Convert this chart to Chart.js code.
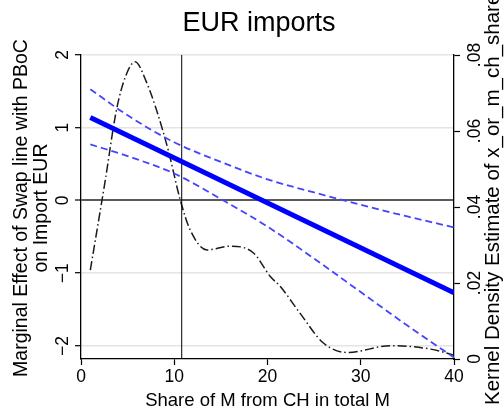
<!DOCTYPE html>
<html>
<head>
<meta charset="utf-8">
<script src="https://cdn.jsdelivr.net/npm/chart.js@4.4.1/dist/chart.umd.min.js"></script>
<style>
  html, body { margin: 0; padding: 0; background: #fff; }
  #wrap { width: 504px; height: 407px; }
</style>
</head>
<body>
<div id="wrap"><canvas id="effectChart"></canvas></div>
<script>
// Marginal effect of the swap line over the CH import share
const effectX = [1, 40];
const effectY = [1.14, -1.27];

// 95% bounds, read at these shares
const ciX = [1, 5, 10, 15, 20, 25, 30, 35, 40];
const upperCI = [1.53, 1.17, 0.80, 0.53, 0.29, 0.11, -0.06, -0.22, -0.37];
const lowerCI = [0.77, 0.61, 0.37, 0.02, -0.36, -0.80, -1.26, -1.72, -2.16];

// Kernel density of the share (right axis)
const densityX = [1, 2.6, 3.8, 4.8, 5.8, 7, 8.1, 9.35, 10.65, 11.7, 13.5, 16, 18.5, 20.3, 21.4, 23.5, 26, 28.6, 33.2, 37.5, 40];
const densityY = [0.0234, 0.047, 0.0655, 0.0745, 0.0782, 0.073, 0.0655, 0.055, 0.0418, 0.034, 0.0287, 0.0297, 0.0279, 0.0217, 0.019, 0.012, 0.0042, 0.0017, 0.0035, 0.0026, 0.001];

// mean share, drawn as a vertical rule
const meanShare = 10.8;

const xTicks = [0, 10, 20, 30, 40];
const leftTicks = [-2, -1, 0, 1, 2];
const leftTickLabels = ['\u22122', '\u22121', '0', '1', '2'];
const rightTicks = [0, 0.02, 0.04, 0.06, 0.08];
const rightTickLabels = ['0', '.02', '.04', '.06', '.08'];

const leftMin = -2.18, leftMax = 2;
const FONT = '"Liberation Sans", Arial, Helvetica, sans-serif';

function pts(xs, ys) {
    return xs.map((x, i) => ({ x: x, y: ys[i] }));
}

// Rotated tick labels and axis titles (Stata style)
const textPlugin = {
    id: 'stataText',
    afterDraw(chart) {
        const ctx = chart.ctx;
        const yL = chart.scales.y;
        const yR = chart.scales.y2;
        const area = chart.chartArea;

        function vText(str, x, y, size, align) {
            ctx.save();
            ctx.translate(x, y);
            ctx.rotate(-Math.PI / 2);
            ctx.font = size + 'px ' + FONT;
            ctx.fillStyle = '#000';
            ctx.textAlign = align || 'center';
            ctx.textBaseline = 'alphabetic';
            ctx.fillText(str, 0, 0);
            ctx.restore();
        }

        leftTicks.forEach((v, i) => {
            vText(leftTickLabels[i], 68, yL.getPixelForValue(v), 17.5);
        });
        rightTicks.forEach((v, i) => {
            vText(rightTickLabels[i], 480, yR.getPixelForValue(v), 17.5);
        });

        // left axis title, two lines
        vText('Marginal Effect of Swap line with PBoC', 27, 208, 19.5);
        vText('on Import EUR', 47, 208, 19.5);

        // right axis title runs off the top edge
        vText('Kernel Density Estimate of x_or_m_ch_share', 499, 405, 20.5, 'left');

        // x title
        ctx.save();
        ctx.font = '18.5px ' + FONT;
        ctx.fillStyle = '#000';
        ctx.textAlign = 'center';
        ctx.textBaseline = 'alphabetic';
        ctx.fillText('Share of M from CH in total M', (area.left + area.right) / 2, 405.5);

        // chart title
        ctx.font = '27px ' + FONT;
        ctx.fillText('EUR imports', 259, 31);
        ctx.restore();
    }
};

const ctx = document.getElementById('effectChart').getContext('2d');
const chart = new Chart(ctx, {
    type: 'line',
    data: {
        datasets: [
            {
                label: 'Marginal effect',
                data: pts(effectX, effectY),
                borderColor: '#0000ff',
                borderWidth: 5,
                pointRadius: 0,
                yAxisID: 'y'
            },
            {
                label: 'Upper bound',
                data: pts(ciX, upperCI),
                borderColor: '#4444ff',
                borderWidth: 1.8,
                borderDash: [7, 4],
                pointRadius: 0,
                cubicInterpolationMode: 'monotone',
                yAxisID: 'y'
            },
            {
                label: 'Lower bound',
                data: pts(ciX, lowerCI),
                borderColor: '#4444ff',
                borderWidth: 1.8,
                borderDash: [7, 4],
                pointRadius: 0,
                cubicInterpolationMode: 'monotone',
                yAxisID: 'y'
            },
            {
                label: 'Mean share',
                data: [{ x: meanShare, y: leftMin }, { x: meanShare, y: leftMax }],
                borderColor: '#000',
                borderWidth: 1,
                pointRadius: 0,
                yAxisID: 'y'
            },
            {
                label: 'Kernel density',
                data: pts(densityX, densityY),
                borderColor: '#1a1a1a',
                borderWidth: 1.5,
                borderDash: [9, 3, 1.5, 3],
                pointRadius: 0,
                cubicInterpolationMode: 'monotone',
                yAxisID: 'y2'
            }
        ]
    },
    options: {
        responsive: true,
        maintainAspectRatio: false,
        animation: false,
        layout: { padding: { top: 55, left: 0, right: 0, bottom: 0 } },
        plugins: {
            legend: { display: false },
            title: { display: false },
            tooltip: { enabled: false }
        },
        scales: {
            x: {
                type: 'linear',
                position: 'bottom',
                min: 0,
                max: 40,
                afterBuildTicks: s => { s.ticks = xTicks.map(v => ({ value: v })); },
                afterFit: s => { s.height = 48; },
                ticks: {
                    color: '#000',
                    font: { family: FONT, size: 17.5 },
                    padding: 2,
                    maxRotation: 0
                },
                grid: {
                    drawOnChartArea: false,
                    drawTicks: true,
                    tickLength: 6,
                    tickColor: '#000',
                    tickWidth: 1.2
                },
                border: { color: '#000', width: 1.3 }
            },
            y: {
                type: 'linear',
                position: 'left',
                min: leftMin,
                max: leftMax,
                afterBuildTicks: s => { s.ticks = leftTicks.map(v => ({ value: v })); },
                afterFit: s => { s.width = 81; },
                ticks: { display: false },
                grid: {
                    color: c => (c.tick && c.tick.value === 0) ? '#5a5a5a' : '#e4e4e4',
                    lineWidth: c => (c.tick && c.tick.value === 0) ? 2 : 1.4,
                    drawTicks: true,
                    tickLength: 6,
                    tickColor: '#000',
                    tickWidth: 1.2
                },
                border: { color: '#000', width: 1.3 }
            },
            y2: {
                type: 'linear',
                position: 'right',
                min: 0,
                max: 0.08,
                afterBuildTicks: s => { s.ticks = rightTicks.map(v => ({ value: v })); },
                afterFit: s => { s.width = 50; },
                ticks: { display: false },
                grid: {
                    drawOnChartArea: false,
                    drawTicks: true,
                    tickLength: 6,
                    tickColor: '#000',
                    tickWidth: 1.2
                },
                border: { color: '#000', width: 1.3 }
            }
        }
    },
    plugins: [textPlugin]
});
</script>
</body>
</html>
